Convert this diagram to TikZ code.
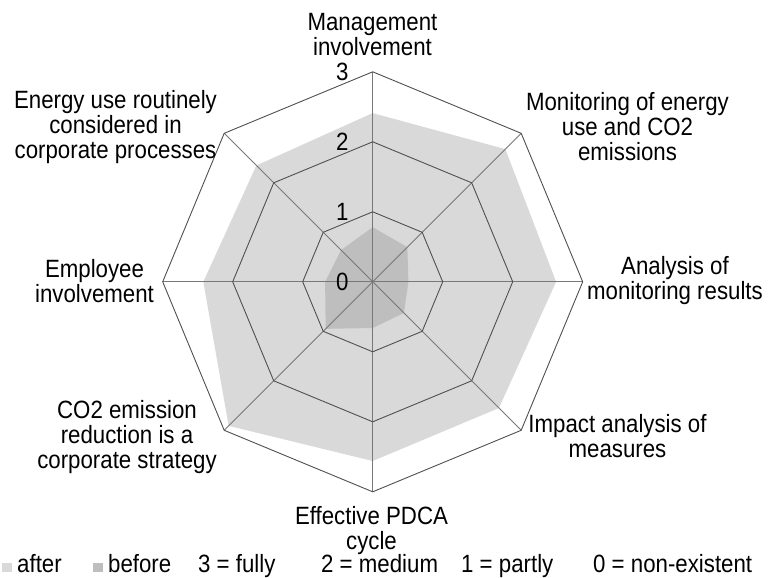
\documentclass[tikz,border=0pt]{standalone}
\usepackage{fontspec}
\setmainfont{Liberation Sans}
\newfontfamily\chartfont[FakeStretch=0.89]{Liberation Sans}
\definecolor{afterc}{RGB}{217,217,217}
\definecolor{beforec}{RGB}{190,190,190}
\definecolor{gridc}{RGB}{80,80,80}
\definecolor{spokec}{RGB}{120,120,120}
\begin{document}
\begin{tikzpicture}[x=1pt,y=-1pt,
  lbl/.style={font=\chartfont\fontsize{25}{25}\selectfont, align=center, inner sep=0pt},
  tick/.style={font=\chartfont\fontsize{25}{25}\selectfont, inner sep=0pt, anchor=east},
  leg/.style={font=\chartfont\fontsize{25}{25}\selectfont, inner sep=0pt, anchor=base west},
  gridline/.style={draw=gridc, line width=0.9pt, line join=miter},
  spoke/.style={draw=spokec, line width=0.9pt}]
\useasboundingbox (0,0) rectangle (771,578);
\fill[white] (0,0) rectangle (771,578);
\begin{scope}[shift={(372.7,281.8)}]
  \foreach \k/\v in {0/2.41,1/2.68,2/2.62,3/2.55,4/2.56,5/2.91,6/2.42,7/2.35}
    \coordinate (a\k) at ({70*\v*sin(45*\k)},{-70*\v*cos(45*\k)});
  \foreach \k/\v in {0/0.78,1/0.70,2/0.51,3/0.63,4/0.66,5/0.95,6/0.68,7/0.64}
    \coordinate (b\k) at ({70*\v*sin(45*\k)},{-70*\v*cos(45*\k)});
  \foreach \k in {0,...,7}
    \coordinate (s\k) at ({210*sin(45*\k)},{-210*cos(45*\k)});
  \coordinate (c) at (0,0);
  \fill[afterc] (a0)--(a1)--(a2)--(a3)--(a4)--(a5)--(a6)--(a7)--cycle;
  \fill[beforec] (b0)--(b1)--(b2)--(b3)--(b4)--(b5)--(b6)--(b7)--cycle;
  \foreach \k in {0,...,7} \draw[spoke] (c) -- (s\k);
  \foreach \l in {1,2,3}
    \draw[gridline] plot[samples at={0,...,7}] ({70*\l*sin(45*\x)},{-70*\l*cos(45*\x)}) -- cycle;
  \foreach \l in {0,1,2,3}
    \node[tick] (t\l) at (-24,{-70*\l}) {\l};
\end{scope}
\node[lbl] (n0) at (372.5,34.5) {Management\\involvement};
\node[lbl] (n1) at (627.5,126.7) {Monitoring of energy\\use and CO2\\emissions};
\node[lbl] (n2) at (675,281) {Analysis of\\monitoring results};
\node[lbl] (n3) at (617.5,436) {Impact analysis of\\measures};
\node[lbl] (n4) at (371.5,530.5) {Effective PDCA\\cycle};
\node[lbl] (n5) at (127,436.7) {CO2 emission\\reduction is a\\corporate strategy};
\node[lbl] (n6) at (94.5,281) {Employee\\involvement};
\node[lbl] (n7) at (115.5,126.7) {Energy use routinely\\considered in\\corporate processes};
\fill[afterc] (2,562.5) rectangle (12,572);
\node[leg] (la) at (17,572.5) {after};
\fill[beforec] (93,562.5) rectangle (103,572);
\node[leg] (lb) at (108,572.5) {before};
\node[leg] (l3) at (198,572.5) {3 = fully};
\node[leg] (l2) at (321,572.5) {2 = medium};
\node[leg] (l1) at (461,572.5) {1 = partly};
\node[leg] (l0) at (593,572.5) {0 = non-existent};
\end{tikzpicture}
\end{document}
